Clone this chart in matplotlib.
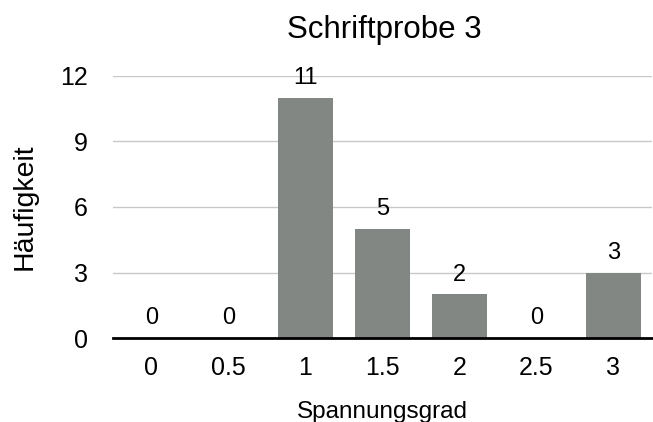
import matplotlib.pyplot as plt

# Daten
kategorien = ['0', '0.5', '1', '1.5', '2', '2.5', '3']
haeufigkeit = [0, 0, 11, 5, 2, 0, 3]
y_ticks = [0, 3, 6, 9, 12]

plt.rcParams['font.family'] = ['Liberation Sans', 'DejaVu Sans']

fig = plt.figure(figsize=(6.53, 4.22), dpi=100)
ax = fig.add_axes([0.173, 0.199, 0.825, 0.621])

x = range(len(kategorien))
bars = ax.bar(x, haeufigkeit, width=0.71, color='#828784', zorder=2)

for i, v in enumerate(haeufigkeit):
    ax.text(i, v + 0.4, str(v), ha='center', va='bottom', fontsize=17, clip_on=False)

ax.set_xlim(-0.5, len(kategorien) - 0.5)
ax.set_ylim(0, 12)
ax.set_yticks(y_ticks)
ax.set_xticks(list(x))
ax.set_xticklabels(kategorien)
ax.tick_params(axis='both', length=0, labelsize=18)
ax.tick_params(axis='y', pad=18)
ax.tick_params(axis='x', pad=13)

ax.grid(axis='y', color='#c8c8c8', linewidth=1, zorder=0)
for s in ['top', 'right', 'left']:
    ax.spines[s].set_visible(False)
ax.spines['bottom'].set_linewidth(2)
ax.spines['bottom'].set_zorder(3)

ax.set_ylabel('Häufigkeit', fontsize=20.5, labelpad=16)
ax.set_xlabel('Spannungsgrad', fontsize=17.5, labelpad=15)
fig.text(0.588, 0.929, 'Schriftprobe 3', ha='center', va='center', fontsize=22.5)

plt.savefig('out.png', dpi=100)
